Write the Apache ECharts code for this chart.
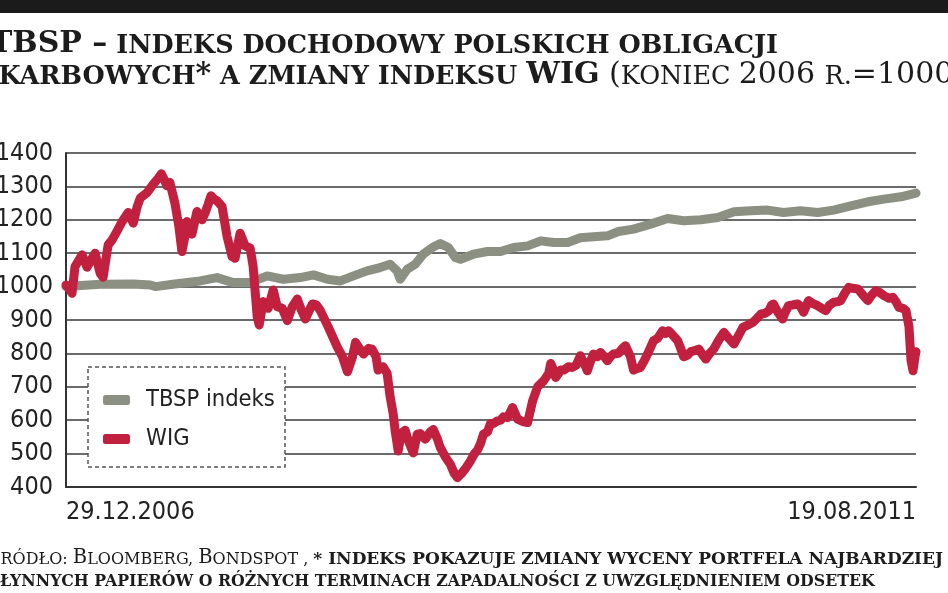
<!DOCTYPE html>
<html>
<head>
<meta charset="utf-8">
<script src="https://cdn.jsdelivr.net/npm/echarts@6/dist/echarts.min.js"></script>
<style>
html,body{margin:0;padding:0;background:#fff;}
#chart{width:948px;height:593px;}
</style>
</head>
<body>
<div id="chart"></div>
<script>
// ---- data ----
const seriesNames = ['TBSP indeks', 'WIG'];
const startDate = '2006-12-29';
const endDate = '2011-08-19';
const yTicks = [400, 500, 600, 700, 800, 900, 1000, 1100, 1200, 1300, 1400];

const wigDates = [
'2006-12-29','2007-01-06','2007-01-10','2007-01-16','2007-01-22','2007-01-30','2007-02-09','2007-02-17','2007-02-25','2007-03-07',
'2007-03-13','2007-03-23','2007-03-31','2007-04-10','2007-04-20','2007-05-02','2007-05-12','2007-05-20','2007-05-26','2007-06-09',
'2007-06-21','2007-07-01','2007-07-07','2007-07-13','2007-07-18','2007-07-24','2007-08-03','2007-08-11','2007-08-17','2007-08-23',
'2007-08-27','2007-09-06','2007-09-16','2007-09-26','2007-10-02','2007-10-08','2007-10-14','2007-10-20','2007-10-26','2007-11-05',
'2007-11-15','2007-11-25','2007-12-01','2007-12-11','2007-12-21','2007-12-31','2008-01-06','2008-01-14','2008-01-18','2008-01-26',
'2008-02-05','2008-02-15','2008-02-23','2008-03-04','2008-03-14','2008-03-24','2008-04-03','2008-04-11','2008-04-19','2008-05-03',
'2008-05-11','2008-05-19','2008-06-04','2008-06-22','2008-07-02','2008-07-12','2008-07-22','2008-07-28','2008-08-07','2008-08-13',
'2008-08-23','2008-08-30','2008-09-07','2008-09-11','2008-09-21','2008-09-29','2008-10-05','2008-10-11','2008-10-15','2008-10-21',
'2008-10-27','2008-11-04','2008-11-10','2008-11-20','2008-11-28','2008-12-04','2008-12-14','2008-12-24','2008-12-30','2009-01-07',
'2009-01-13','2009-01-23','2009-02-02','2009-02-10','2009-02-16','2009-02-24','2009-03-04','2009-03-14','2009-03-22','2009-03-28',
'2009-04-03','2009-04-09','2009-04-17','2009-04-23','2009-04-29','2009-05-07','2009-05-13','2009-05-19','2009-05-27','2009-06-06',
'2009-06-16','2009-06-26','2009-07-06','2009-07-16','2009-07-26','2009-08-07','2009-08-17','2009-08-21','2009-08-27','2009-08-31',
'2009-09-10','2009-09-16','2009-09-25','2009-10-03','2009-10-11','2009-10-19','2009-10-27','2009-11-02','2009-11-08','2009-11-14',
'2009-11-22','2009-11-28','2009-12-06','2009-12-12','2009-12-18','2009-12-24','2010-01-03','2010-01-11','2010-01-17','2010-01-27',
'2010-02-02','2010-02-10','2010-02-16','2010-02-24','2010-03-02','2010-03-14','2010-03-22','2010-04-01','2010-04-07','2010-04-13',
'2010-04-21','2010-05-01','2010-05-07','2010-05-13','2010-05-21','2010-05-27','2010-06-04','2010-06-12','2010-06-20','2010-06-26',
'2010-07-04','2010-07-12','2010-07-22','2010-08-01','2010-08-11','2010-08-21','2010-08-31','2010-09-08','2010-09-18','2010-09-28',
'2010-10-06','2010-10-14','2010-10-22','2010-10-30','2010-11-04','2010-11-08','2010-11-16','2010-11-26','2010-12-02','2010-12-08',
'2010-12-16','2010-12-26','2011-01-01','2011-01-07','2011-01-13','2011-01-17','2011-01-25','2011-02-04','2011-02-12','2011-02-20',
'2011-02-28','2011-03-08','2011-03-16','2011-03-22','2011-03-30','2011-04-07','2011-04-15','2011-04-25','2011-05-05','2011-05-15',
'2011-05-23','2011-05-31','2011-06-08','2011-06-16','2011-06-26','2011-07-04','2011-07-10','2011-07-16','2011-07-24','2011-07-30',
'2011-08-05','2011-08-09','2011-08-13','2011-08-17','2011-08-19'
];
const wigValues = [
1005,990,980,1060,1075,1095,1058,1080,1100,1040,
1028,1125,1140,1167,1195,1222,1190,1240,1265,1282,
1307,1325,1338,1320,1302,1312,1250,1180,1105,1150,
1195,1157,1225,1200,1220,1245,1272,1262,1257,1240,
1150,1090,1085,1160,1122,1115,1060,910,885,955,
935,990,940,935,898,940,963,930,903,948,
945,928,878,818,790,745,790,833,810,798,
815,813,790,750,760,740,670,620,568,508,
560,570,540,502,558,560,543,565,572,545,
518,490,468,440,428,440,455,478,500,510,
530,558,565,590,590,598,600,610,608,638,
603,596,593,658,700,718,740,770,750,728,
750,750,760,758,765,793,770,748,775,798,
790,803,790,778,790,798,800,815,823,790,
750,755,758,780,798,838,845,868,860,868,
855,838,815,790,795,805,808,813,795,783,
800,813,840,863,845,828,855,878,885,893,
905,918,920,928,945,948,925,903,925,943,
945,948,940,923,945,958,950,943,935,928,
945,953,955,958,980,998,995,993,975,958,
975,988,982,973,965,968,955,938,935,928,
880,780,748,790,805
];

const tbspDates = [
'2006-12-29','2007-03-07','2007-05-12','2007-06-15','2007-06-25','2007-08-03','2007-09-22','2007-10-26','2007-11-27','2007-12-31',
'2008-02-03','2008-03-06','2008-04-09','2008-05-05','2008-06-02','2008-06-28','2008-07-24','2008-08-20','2008-09-15','2008-10-05',
'2008-10-19','2008-10-25','2008-11-08','2008-11-24','2008-12-10','2008-12-28','2009-01-13','2009-01-29','2009-02-12','2009-02-22',
'2009-03-20','2009-04-17','2009-05-13','2009-06-08','2009-07-06','2009-08-01','2009-08-27','2009-09-24','2009-10-19','2009-11-14',
'2009-12-12','2010-01-03','2010-02-02','2010-03-08','2010-04-11','2010-05-13','2010-06-16','2010-07-20','2010-08-21','2010-09-24',
'2010-10-27','2010-11-28','2011-01-01','2011-02-04','2011-03-08','2011-04-11','2011-05-15','2011-06-16','2011-07-20','2011-08-19'
];
const tbspValues = [
1000,1007,1008,1005,1000,1008,1017,1027,1012,1012,
1032,1022,1027,1035,1022,1017,1032,1047,1057,1067,
1047,1022,1052,1067,1097,1117,1129,1117,1087,1082,
1097,1105,1105,1117,1122,1137,1132,1132,1146,1149,
1152,1165,1172,1187,1204,1197,1200,1207,1224,1227,
1229,1222,1227,1222,1229,1242,1254,1262,1269,1280
];

// ---- text ----
const titleLine1 = '{big|TBSP –}{sc| INDEKS DOCHODOWY POLSKICH OBLIGACJI}';
const titleLine2 = '{sc|SKARBOWYCH}{big|*}{sc| A ZMIANY INDEKSU }{big|WIG}{bigR| (}{scR|KONIEC }{bigR|2006 }{scR|R.}{bigR|=1000)}';
const footLine1 = '{capR|Ź}{scR|RÓDŁO: }{capR|B}{scR|LOOMBERG, }{capR|B}{scR|ONDSPOT , }{sc|* INDEKS POKAZUJE ZMIANY WYCENY PORTFELA NAJBARDZIEJ}';
const footLine2 = '{sc|PŁYNNYCH PAPIERÓW O RÓŻNYCH TERMINACH ZAPADALNOŚCI Z UWZGLĘDNIENIEM ODSETEK}';

// ---- styles ----
const narrow = '"DejaVu Sans Condensed", "Liberation Sans Narrow", "Liberation Sans", sans-serif';
const serif = '"DejaVu Serif", "Liberation Serif", serif';
const ink = '#1c1c1c';
const colTBSP = '#8b9082';
const colWIG = '#c1203f';

function pad2(n){ return (n < 10 ? '0' : '') + n; }
function toTs(s){ const p = s.split('-'); return new Date(+p[0], +p[1]-1, +p[2]).getTime(); }

const tMin = toTs(startDate), tMax = toTs(endDate);

function rich(sizeBig, sizeSc, sizeScR){
  const r = sizeScR || sizeSc;
  return {
    big:  {fontFamily: serif, fontWeight: 'bold',   fontSize: sizeBig, lineHeight: sizeBig, verticalAlign: 'bottom', fill: ink},
    sc:   {fontFamily: serif, fontWeight: 'bold',   fontSize: sizeSc,  lineHeight: sizeSc,  verticalAlign: 'bottom', fill: ink},
    bigR: {fontFamily: serif, fontWeight: 'normal', fontSize: sizeBig, lineHeight: sizeBig, verticalAlign: 'bottom', fill: ink},
    scR:  {fontFamily: serif, fontWeight: 'normal', fontSize: r,       lineHeight: r,       verticalAlign: 'bottom', fill: ink},
    capR: {fontFamily: serif, fontWeight: 'normal', fontSize: sizeBig, lineHeight: sizeBig, verticalAlign: 'bottom', fill: ink}
  };
}

const chart = echarts.init(document.getElementById('chart'), null, {renderer: 'canvas'});
chart.setOption({
  animation: false,
  backgroundColor: '#fff',
  grid: {left: 66, right: 32, top: 153, bottom: 106, containLabel: false, outerBoundsMode: 'none'},
  xAxis: {
    type: 'value',
    min: tMin, max: tMax,
    axisLine: {show: true, lineStyle: {color: '#333', width: 2}},
    axisTick: {show: false},
    splitLine: {show: false},
    axisLabel: {
      customValues: [tMin, tMax],
      alignMinLabel: 'left', alignMaxLabel: 'right',
      showMinLabel: true, showMaxLabel: true,
      color: '#222', fontFamily: narrow, fontSize: 25, margin: 13,
      padding: [0, 0, 0, 0],
      formatter: function(v){ const d = new Date(v); return pad2(d.getDate()) + '.' + pad2(d.getMonth()+1) + '.' + d.getFullYear(); }
    }
  },
  yAxis: {
    type: 'value', min: yTicks[0], max: yTicks[yTicks.length-1], interval: 100,
    axisLine: {show: true, lineStyle: {color: '#333', width: 2}},
    axisTick: {show: false},
    splitLine: {show: true, lineStyle: {color: '#3a3a3a', width: 1.6}},
    axisLabel: {color: '#222', fontFamily: narrow, fontSize: 25, margin: 13, formatter: function(v){ return String(v); }}
  },
  legend: {
    data: seriesNames,
    orient: 'vertical',
    left: 103, top: 388,
    padding: 0,
    itemGap: 15,
    itemWidth: 27, itemHeight: 10,
    icon: 'roundRect',
    z: 10,
    textStyle: {color: '#222', fontFamily: narrow, fontSize: 23.5, padding: [0, 0, 0, 11]}
  },
  graphic: [
    {type: 'rect', shape: {x: 0, y: 0, width: 948, height: 13}, style: {fill: '#1b1b1b'}, z: 1},
    {type: 'rect', shape: {x: 88, y: 367, width: 197, height: 100}, style: {fill: '#fff', stroke: '#555', lineWidth: 1.5, lineDash: [4, 3]}, z: 5},
    {type: 'text', x: -10, y: 59, z: 5, style: {text: titleLine1, rich: rich(30, 25.5), verticalAlign: 'bottom', textVerticalAlign: 'bottom', align: 'left'}},
    {type: 'text', x: -20, y: 90, z: 5, style: {text: titleLine2, rich: rich(30, 25.5), verticalAlign: 'bottom', textVerticalAlign: 'bottom', align: 'left'}},
    {type: 'text', x: -13, y: 568, z: 5, style: {text: footLine1, rich: rich(19.5, 17, 16), verticalAlign: 'bottom', textVerticalAlign: 'bottom', align: 'left'}},
    {type: 'text', x: -12, y: 590, z: 5, style: {text: footLine2, rich: rich(19.5, 15.8), verticalAlign: 'bottom', textVerticalAlign: 'bottom', align: 'left'}}
  ],
  series: [
    {
      name: seriesNames[0], type: 'line', showSymbol: false, symbol: 'none',
      data: tbspDates.map((d, i) => [toTs(d), tbspValues[i]]),
      color: colTBSP,
      lineStyle: {color: colTBSP, width: 9, cap: 'round', join: 'round'},
      z: 2
    },
    {
      name: seriesNames[1], type: 'line', showSymbol: false, symbol: 'none',
      data: wigDates.map((d, i) => [toTs(d), wigValues[i]]),
      color: colWIG,
      lineStyle: {color: colWIG, width: 9, cap: 'round', join: 'round'},
      z: 3
    }
  ]
});
</script>
</body>
</html>
